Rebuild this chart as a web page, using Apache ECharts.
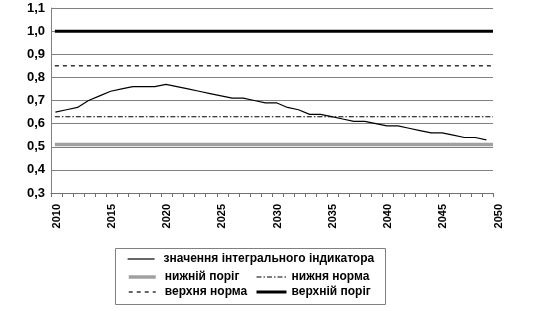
<!DOCTYPE html>
<html>
<head>
<meta charset="utf-8">
<script src="https://cdn.jsdelivr.net/npm/echarts@6/dist/echarts.min.js"></script>
<style>html,body{margin:0;padding:0;background:#fff}#c{width:536px;height:311px}</style>
</head>
<body>
<div id="c"></div>
<script>
// Data
const years = [];
for (let y = 2010; y <= 2049; y++) years.push(y);
const indicator = [0.65,0.66,0.67,0.70,0.72,0.74,0.75,0.76,0.76,0.76,
                   0.77,0.76,0.75,0.74,0.73,0.72,0.71,0.71,0.70,0.69,
                   0.69,0.67,0.66,0.64,0.64,0.63,0.62,0.61,0.61,0.60,
                   0.59,0.59,0.58,0.57,0.56,0.56,0.55,0.54,0.54,0.53];
const lowerThreshold = 0.51;
const lowerNorm = 0.63;
const upperNorm = 0.85;
const upperThreshold = 1.0;
const thresholdSpan = [2010.35, 2050];
const yTicks = [0.3,0.4,0.5,0.6,0.7,0.8,0.9,1.0,1.1];
const xTicks = [2010,2015,2020,2025,2030,2035,2040,2045,2050];
const names = ['значення інтегрального індикатора','нижній поріг','нижня норма','верхня норма','верхній поріг'];
const pointOffset = 0.4; // points sit inside each year's band

const font = "'Liberation Sans', Arial, sans-serif";
const chart = echarts.init(document.getElementById('c'));
const flat = v => thresholdSpan.map(x => [x, v]);
const styles = {};
styles[names[0]] = {color: '#000', width: 1.2, type: 'solid'};
styles[names[1]] = {color: '#a0a0a0', width: 3.5, type: 'solid'};
styles[names[2]] = {color: '#000', width: 1.1, type: [5,2,1.5,2]};
styles[names[3]] = {color: '#000', width: 1.2, type: [4,4]};
styles[names[4]] = {color: '#000', width: 3, type: 'solid'};
const legendText = {fontFamily: font, fontWeight: 'bold', fontSize: 12, color: '#000', lineHeight: 12};
const legItem = n => ({name: n, itemStyle: {opacity: 0}, lineStyle: Object.assign({}, styles[n])});
chart.setOption({
  animation: false,
  grid: {left: 51, right: 43, top: 8, bottom: 118},
  xAxis: {
    type: 'value', min: xTicks[0], max: xTicks[xTicks.length-1], interval: 5,
    axisLine: {lineStyle: {color: '#707070', width: 1}},
    axisTick: {show: true, length: 4, inside: false, lineStyle: {color: '#707070'}},
    minorTick: {show: true, splitNumber: 5, length: 4, lineStyle: {color: '#707070'}},
    splitLine: {show: false},
    axisLabel: {rotate: 90, margin: 11, fontFamily: font, fontWeight: 'bold', fontSize: 11, color: '#000',
      verticalAlign: 'top', formatter: v => String(v)}
  },
  yAxis: {
    type: 'value', min: yTicks[0], max: yTicks[yTicks.length-1], interval: 0.1,
    axisLine: {show: true, lineStyle: {color: '#808080'}},
    axisTick: {show: false},
    splitLine: {show: true, lineStyle: {color: '#808080', width: 1}},
    axisLabel: {margin: 6, fontFamily: font, fontWeight: 'bold', fontSize: 13, color: '#000',
      formatter: v => v.toFixed(1).replace('.', ',')}
  },
  legend: [
    {data: [legItem(names[0])], left: 127, top: 253, padding: 0, orient: 'vertical', itemWidth: 27, itemHeight: 12,
     textStyle: Object.assign({padding: [0,0,0,4]}, legendText), selectedMode: false},
    {data: [legItem(names[1]), legItem(names[3])], left: 127, top: 271, padding: 0, orient: 'vertical', itemWidth: 27, itemHeight: 12, itemGap: 3,
     textStyle: Object.assign({padding: [0,0,0,4]}, legendText), selectedMode: false},
    {data: [legItem(names[2]), legItem(names[4])], left: 255, top: 271, padding: 0, orient: 'vertical', itemWidth: 30, itemHeight: 12, itemGap: 3,
     textStyle: Object.assign({}, legendText), selectedMode: false}
  ],
  graphic: [{type: 'rect', shape: {x: 115.5, y: 248.5, width: 270, height: 56},
    style: {fill: 'none', stroke: '#808080', lineWidth: 1}, silent: true}],
  series: [
    {name: names[1], type: 'line', symbol: 'none', data: flat(lowerThreshold),
     itemStyle: {color: styles[names[1]].color}, lineStyle: styles[names[1]], z: 2},
    {name: names[2], type: 'line', symbol: 'none', data: flat(lowerNorm),
     itemStyle: {color: '#000'}, lineStyle: styles[names[2]], z: 2},
    {name: names[3], type: 'line', symbol: 'none', data: flat(upperNorm),
     itemStyle: {color: '#000'}, lineStyle: styles[names[3]], z: 2},
    {name: names[4], type: 'line', symbol: 'none', data: flat(upperThreshold),
     itemStyle: {color: '#000'}, lineStyle: styles[names[4]], z: 2},
    {name: names[0], type: 'line', symbol: 'none', data: years.map((y,i) => [y + pointOffset, indicator[i]]),
     itemStyle: {color: '#000'}, lineStyle: styles[names[0]], z: 3}
  ]
});
</script>
</body>
</html>
